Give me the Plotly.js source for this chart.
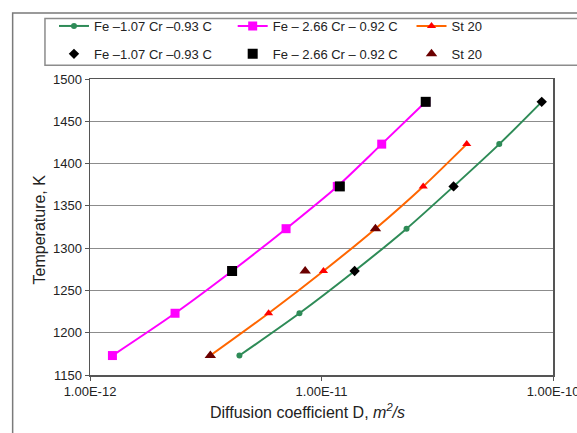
<!DOCTYPE html>
<html>
<head>
<meta charset="utf-8">
<script src="https://cdn.plot.ly/plotly-3.0.1.min.js"></script>
<style>
html,body{margin:0;padding:0;background:#fff;}
#chart{width:577px;height:433px;}
</style>
</head>
<body>
<div id="chart"></div>
<script>
// Temperatures (K)
var tempAll = [1173, 1223, 1273, 1323, 1373, 1423, 1473];
var tempSt20Calc = [1173, 1223, 1273, 1323, 1373, 1423];

// Calculated diffusion coefficients (m^2/s)
var dFe107Calc = [4.42e-12, 8.03e-12, 1.39e-11, 2.33e-11, 3.72e-11, 5.86e-11, 8.94e-11];
var dFe266Calc = [1.25e-12, 2.33e-12, 4.11e-12, 7.03e-12, 1.17e-11, 1.82e-11, 2.82e-11];
var dSt20Calc  = [3.31e-12, 5.91e-12, 1.02e-11, 1.71e-11, 2.75e-11, 4.24e-11];

// Experimental points
var tempFe107Exp = [1273, 1373, 1473];
var dFe107Exp = [1.39e-11, 3.72e-11, 8.94e-11];
var tempFe266Exp = [1273, 1373, 1473];
var dFe266Exp = [4.11e-12, 1.20e-11, 2.82e-11];
var tempSt20Exp = [1173, 1273, 1323];
var dSt20Exp = [3.31e-12, 8.50e-12, 1.71e-11];

var nameFe107 = 'Fe \u20131.07 Cr \u20130.93 C';
var nameFe266 = 'Fe \u2013 2.66 Cr \u2013 0.92 C';
var nameSt20 = 'St 20';

var xTickVals = [1e-12, 1e-11, 1e-10];
var xTickText = ['1.00E-12', '1.00E-11', '1.00E-10'];

var traces = [
  {x: dFe107Calc, y: tempAll, name: nameFe107, mode: 'lines+markers', legend: 'legend', legendgroup: 'a1',
   line: {color: '#2E8B57', width: 2, shape: 'spline', smoothing: 0.8},
   marker: {symbol: 'circle', size: 6, color: '#2E8B57'}},
  {x: dFe266Calc, y: tempAll, name: nameFe266, mode: 'lines+markers', legend: 'legend2', legendgroup: 'b1',
   line: {color: '#FF00FF', width: 2, shape: 'spline', smoothing: 0.8},
   marker: {symbol: 'square', size: 9, color: '#FF00FF'}},
  {x: dSt20Calc, y: tempSt20Calc, name: nameSt20, mode: 'lines+markers', legend: 'legend3', legendgroup: 'c1',
   line: {color: '#FF6600', width: 2, shape: 'spline', smoothing: 0.8},
   marker: {symbol: 'triangle-up', size: 8, color: '#FF0000'}},
  {x: dFe107Exp, y: tempFe107Exp, name: nameFe107, mode: 'markers', legend: 'legend', legendgroup: 'a2',
   marker: {symbol: 'diamond', size: 8, color: '#000000'}},
  {x: dFe266Exp, y: tempFe266Exp, name: nameFe266, mode: 'markers', legend: 'legend2', legendgroup: 'b2',
   marker: {symbol: 'square', size: 10, color: '#000000'}},
  {x: dSt20Exp, y: tempSt20Exp, name: nameSt20, mode: 'markers', legend: 'legend3', legendgroup: 'c2',
   marker: {symbol: 'triangle-up', size: 10, color: '#6B0000'}}
];

var L = 90, R = 552.7, T = 78, B = 375;
function px(x){ return (x - L) / (R - L); }
function py(y){ return (B - y) / (B - T); }

function legendAt(xpx){
  return {
    orientation: 'v', x: px(xpx), y: py(11), xanchor: 'left', yanchor: 'top',
    traceorder: 'grouped', tracegroupgap: 8,
    font: {size: 13, color: '#222'}, bgcolor: 'rgba(0,0,0,0)', borderwidth: 0
  };
}

var layout = {
  width: 577, height: 433,
  margin: {l: L, r: 577 - R, t: T, b: 433 - B, pad: 0},
  paper_bgcolor: '#ffffff', plot_bgcolor: '#ffffff',
  font: {family: 'Liberation Sans, Arial, sans-serif', size: 13, color: '#222'},
  showlegend: true,
  legend: legendAt(54),
  legend2: legendAt(232.6),
  legend3: legendAt(411.3),
  xaxis: {
    type: 'log', range: [-12, -10], tickvals: xTickVals, ticktext: xTickText,
    ticklabeloverflow: 'allow',
    showgrid: false, zeroline: false, ticks: 'outside', ticklen: 4, tickcolor: '#555',
    showline: true, linecolor: '#555', linewidth: 1.5, mirror: true,
    tickfont: {size: 13, color: '#222'}
  },
  yaxis: {
    range: [1150, 1500], dtick: 50, tick0: 1150,
    showgrid: true, gridcolor: '#8c8c8c', gridwidth: 1, zeroline: false,
    ticks: 'outside', ticklen: 4, tickcolor: '#555',
    showline: true, linecolor: '#555', linewidth: 1.5, mirror: true,
    tickfont: {size: 13, color: '#222'}
  },
  annotations: [
    {text: 'Temperature, K', xref: 'paper', yref: 'paper', x: px(40), y: py(229),
     textangle: -90, showarrow: false, xanchor: 'center', yanchor: 'middle',
     font: {size: 16, color: '#222'}},
    {text: 'Diffusion coefficient D, <i>m</i><sup><i>2</i></sup><i>/s</i>', xref: 'paper', yref: 'paper',
     x: px(307), y: py(411.5), showarrow: false, xanchor: 'center', yanchor: 'middle',
     font: {size: 16, color: '#222'}}
  ],
  shapes: [
    {type: 'rect', xref: 'paper', yref: 'paper', x0: px(12.7), x1: px(600), y0: py(11.7), y1: py(450),
     line: {color: '#7a7a7a', width: 1.5}, fillcolor: 'rgba(0,0,0,0)', layer: 'below'},
    {type: 'rect', xref: 'paper', yref: 'paper', x0: px(45), x1: px(600), y0: py(17.3), y1: py(64.3),
     line: {color: '#8c8c8c', width: 1.5}, fillcolor: 'rgba(0,0,0,0)', layer: 'below'}
  ]
};

Plotly.newPlot('chart', traces, layout, {displayModeBar: false, staticPlot: true});
</script>
</body>
</html>
